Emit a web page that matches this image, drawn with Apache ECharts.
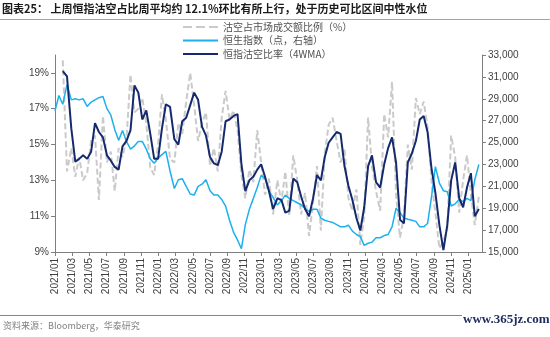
<!DOCTYPE html>
<html><head><meta charset="utf-8">
<script src="https://cdn.jsdelivr.net/npm/echarts@6/dist/echarts.min.js"></script>
<style>html,body{margin:0;padding:0;background:#fff}#c{width:550px;height:337px}</style>
</head><body><div id="c"></div>
<script>
// bi-weekly observations starting 2021/01/01
const startYear = 2021, startMonth = 0, startDay = 1, stepDays = 14;

const shortRatioWeekly = [null,null,19.7,13.5,14.8,13.2,14.3,13.0,13.4,15.2,
15.5,11.9,16.6,14.0,14.6,12.4,14.8,14.3,15.3,18.9,
16.8,17.0,17.6,16.2,13.7,13.3,15.0,17.8,16.4,14.2,
14.0,16.2,15.6,17.4,19.0,17.2,15.2,16.2,16.8,13.8,
14.8,13.5,16.5,18.0,16.4,16.9,15.8,13.3,12.0,13.6,
12.9,15.8,14.0,12.2,13.1,11.1,13.0,11.8,13.5,11.0,
14.4,13.0,11.1,12.3,9.9,11.8,13.8,10.2,14.5,16.1,
16.5,15.2,14.0,14.8,12.0,11.3,12.5,9.4,11.0,16.5,
13.8,12.4,11.3,16.7,15.4,18.5,12.2,9.8,11.0,15.0,
13.6,17.6,16.7,17.4,16.0,13.0,11.2,9.2,9.6,10.3,
15.5,14.3,11.2,13.0,14.4,12.2,10.5,12.1];

const hsiIndex = [27900,29300,28500,30300,28900,29000,28900,29000,28300,28700,
28900,29100,29200,28100,27500,26200,25200,26100,25100,24400,
24700,25100,25100,24400,23500,23100,23600,23900,24200,22400,
20800,21600,21700,21000,20300,20200,21000,21200,21600,20600,
20200,20200,19800,19200,17900,16800,16100,15300,17500,18900,
19900,20900,22000,21700,20600,20000,19300,19700,20200,19900,
19700,19500,19300,19000,18700,18900,18900,18100,17900,17800,
17700,17500,17300,17300,17450,16900,16600,16400,15600,15800,
15900,16300,16300,16500,16600,17300,19000,18600,18100,18000,
17900,17800,17300,17300,17600,20000,22800,21300,20600,20500,
19200,19400,19800,19600,19900,19700,21600,23000];

const shortRatio4WMA = [null,null,19.1,18.8,15.9,14.05,14.2,14.4,14.2,14.6,
16.2,15.7,15.4,14.4,14.1,13.75,13.6,14.9,15.2,15.8,
18.3,17.9,16.4,16.9,15.6,14.2,14.2,15.9,17.25,17.1,
15.3,15.0,16.3,16.5,17.2,17.9,17.5,16.0,15.5,14.3,
13.95,13.85,14.6,16.3,16.4,16.6,16.7,13.9,12.4,13.0,
13.2,13.6,13.9,13.2,12.4,11.4,12.0,11.9,11.2,11.3,
13.1,12.9,12.1,11.4,11.0,12.0,13.3,13.0,14.3,15.1,
15.4,15.7,15.6,13.8,12.7,11.9,10.9,10.2,11.5,13.8,
14.4,12.9,12.6,13.9,14.8,15.4,14.0,10.8,10.6,14.0,
14.5,15.2,16.4,16.6,15.7,13.7,12.3,10.5,9.1,10.5,
13.0,14.0,12.0,11.5,12.6,13.4,11.0,11.4];

const xTickLabels = ['2021/01','2021/03','2021/05','2021/07','2021/09','2021/11',
'2022/01','2022/03','2022/05','2022/07','2022/09','2022/11',
'2023/01','2023/03','2023/05','2023/07','2023/09','2023/11',
'2024/01','2024/03','2024/05','2024/07','2024/09','2024/11','2025/01'];
const leftTicks = [9,11,13,15,17,19];
const seriesNames = ['沽空占市场成交额比例（%）','恒生指数（点，右轴）','恒指沽空比率（4WMA）'];

// x scale: months elapsed since 2021/01/01 (fractional)
const monthPos = d => {
  const y = d.getFullYear(), m = d.getMonth();
  const dim = new Date(y, m + 1, 0).getDate();
  return (y - 2021) * 12 + m + (d.getDate() - 1) / dim;
};
const xs = shortRatioWeekly.map((_, i) => monthPos(new Date(startYear, startMonth, startDay + i * stepDays)));
const pair = arr => arr.map((v, i) => [xs[i], v]);
const tickPos = xTickLabels.map(s => { const p = s.split('/'); return (+p[0] - 2021) * 12 + (+p[1] - 1); });
const labelOf = v => { const k = tickPos.indexOf(v); return k >= 0 ? xTickLabels[k] : ''; };

const FONT = 'Liberation Sans, Noto Sans CJK SC, sans-serif';
const axisColor = '#7f7f7f';
const dashIcon = 'path://M0 0h9v2H0z M13 0h9v2H13z M26 0h9v2H26z';
const solidIcon = 'path://M0 0h35v2H0z';
const chart = echarts.init(document.getElementById('c'), null, {renderer: 'canvas'});
chart.setOption({
  animation: false,
  textStyle: {fontFamily: FONT},
  title: {
    text: '图表25： 上周恒指沽空占比周平均约 12.1%环比有所上行，处于历史可比区间中性水位',
    left: 2, top: 3, padding: 0,
    textStyle: {fontSize: 11, fontWeight: 'bold', color: '#1a1a1a', fontFamily: 'Noto Sans CJK SC'}
  },
  legend: {
    orient: 'vertical', left: 183, top: 21, padding: 0, itemWidth: 35, itemHeight: 2, itemGap: 1.5,
    textStyle: {fontSize: 10, color: '#505050', lineHeight: 12, fontFamily: 'Noto Sans CJK SC'},
    data: [{name: seriesNames[0], icon: dashIcon}, {name: seriesNames[1], icon: solidIcon}, {name: seriesNames[2], icon: solidIcon}]
  },
  grid: {left: 55, right: 68, top: 55, bottom: 85, containLabel: false},
  xAxis: {
    type: 'value', min: 0, max: 49.58, interval: 2,
    axisLine: {show: true, lineStyle: {color: axisColor, width: 1}},
    axisTick: {show: true, length: 4, lineStyle: {color: axisColor}, customValues: tickPos},
    axisLabel: {rotate: 90, fontSize: 10, color: '#404040', margin: 6, customValues: tickPos, formatter: labelOf},
    splitLine: {show: false}
  },
  yAxis: [{
    type: 'value', min: 9, max: 20, interval: 2, position: 'left',
    axisLine: {show: true, lineStyle: {color: axisColor}},
    axisTick: {show: true, length: 4, lineStyle: {color: axisColor}, customValues: leftTicks},
    axisLabel: {fontSize: 10, color: '#404040', margin: 6, customValues: leftTicks,
      formatter: v => v >= 20 ? '' : v + '%'},
    splitLine: {show: false}
  }, {
    type: 'value', min: 15000, max: 33000, interval: 2000, position: 'right',
    axisLine: {show: true, lineStyle: {color: axisColor}},
    axisTick: {show: true, length: 4, lineStyle: {color: axisColor}},
    axisLabel: {fontSize: 10, color: '#404040', margin: 6, formatter: v => v.toLocaleString('en-US')},
    splitLine: {show: false}
  }],
  series: [{
    name: seriesNames[0], type: 'line', yAxisIndex: 0, showSymbol: false, symbol: 'none', z: 1,
    lineStyle: {color: '#cacaca', width: 2, type: [6, 3]}, itemStyle: {color: '#cacaca'},
    data: pair(shortRatioWeekly)
  }, {
    name: seriesNames[1], type: 'line', yAxisIndex: 1, showSymbol: false, symbol: 'none', z: 2,
    lineStyle: {color: '#1cb0ee', width: 1.5}, itemStyle: {color: '#1cb0ee'},
    data: pair(hsiIndex)
  }, {
    name: seriesNames[2], type: 'line', yAxisIndex: 0, showSymbol: false, symbol: 'none', z: 3,
    lineStyle: {color: '#152a6e', width: 2}, itemStyle: {color: '#152a6e'},
    data: pair(shortRatio4WMA)
  }],
  graphic: [
    {type: 'line', shape: {x1: 0, y1: 19.5, x2: 550, y2: 19.5}, style: {stroke: '#9aa6bd', lineWidth: 1}},
    {type: 'line', shape: {x1: 0, y1: 315.5, x2: 462, y2: 315.5}, style: {stroke: '#7088b5', lineWidth: 1}},
    {type: 'text', left: 3, top: 321, style: {text: '资料来源：Bloomberg，华泰研究', fontSize: 9, fill: '#808080', fontFamily: 'Noto Sans CJK SC'}},
    {type: 'text', left: 463, top: 313, style: {text: 'www.365jz.com', fontSize: 13, fontWeight: 'bold', fill: '#1e2b5e', fontFamily: 'Liberation Serif'}}
  ]
});
</script></body></html>
